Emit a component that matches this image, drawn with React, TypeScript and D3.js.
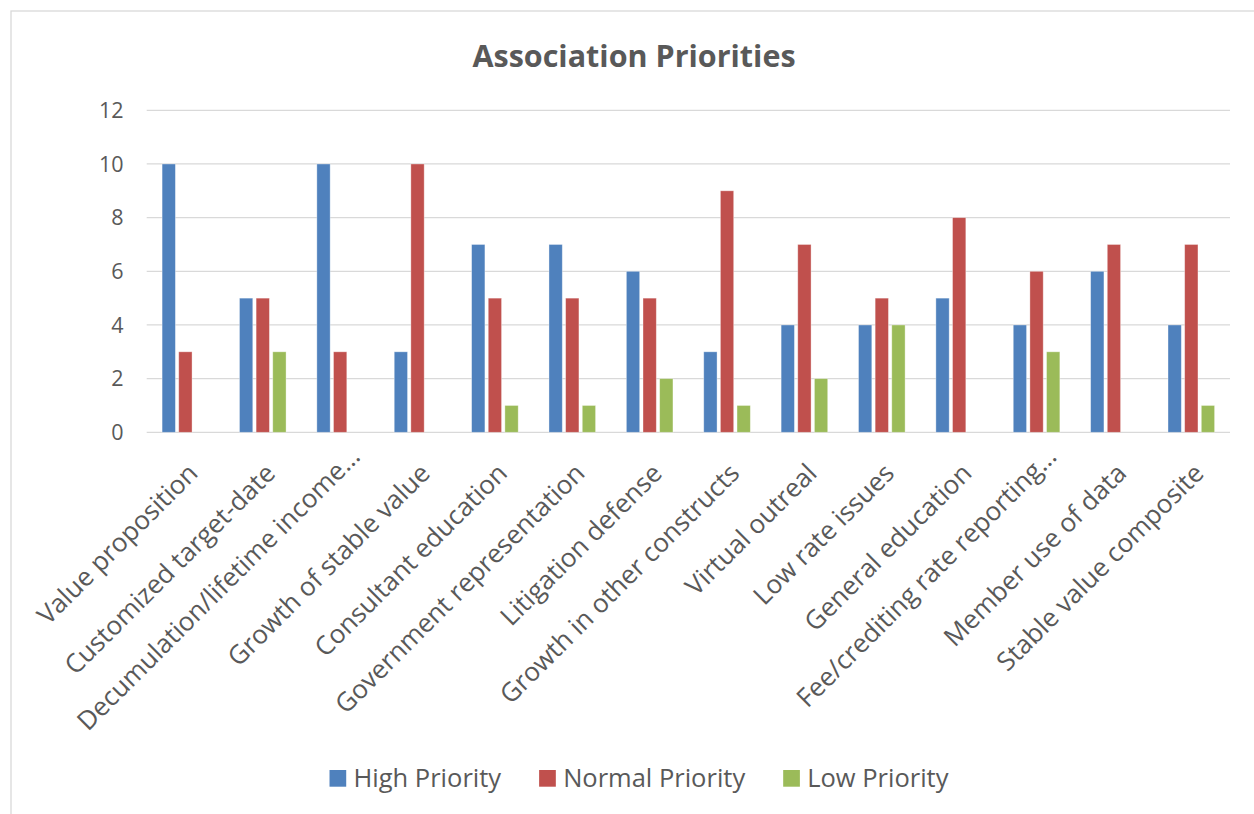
import { useEffect, useRef } from "react";
import * as d3 from "d3";

const categories = [
  "Value proposition",
  "Customized target-date",
  "Decumulation/lifetime income…",
  "Growth of stable value",
  "Consultant education",
  "Government representation",
  "Litigation defense",
  "Growth in other constructs",
  "Virtual outreal",
  "Low rate issues",
  "General education",
  "Fee/crediting rate reporting…",
  "Member use of data",
  "Stable value composite",
];

const highPriority = [10, 5, 10, 3, 7, 7, 6, 3, 4, 4, 5, 4, 6, 4];
const normalPriority = [3, 5, 3, 10, 5, 5, 5, 9, 7, 5, 8, 6, 7, 7];
const lowPriority = [0, 3, 0, 0, 1, 1, 2, 1, 2, 4, 0, 3, 0, 1];

const seriesNames = ["High Priority", "Normal Priority", "Low Priority"];
const seriesColors = ["#4F81BD", "#C0504D", "#9BBB59"];
const yTicks = [0, 2, 4, 6, 8, 10, 12];

const W = 1254;
const H = 814;
const plot = { left: 146.7, right: 1230, top: 110.3, bottom: 432.3 };
const font = "'Open Sans', sans-serif";
const textColor = "#595959";
const gridColor = "#D9D9D9";

export default function App() {
  const ref = useRef<SVGSVGElement>(null);

  useEffect(() => {
    const svg = d3.select(ref.current);
    svg.selectAll("*").remove();

    const x = d3.scaleBand().domain(categories).range([plot.left, plot.right]);
    const y = d3.scaleLinear().domain([0, 12]).range([plot.bottom, plot.top]);
    const inner = d3
      .scaleBand()
      .domain(seriesNames)
      .range([-23.3, 23.3])
      .paddingInner(0.2);

    // chart frame
    svg
      .append("rect")
      .attr("x", 11)
      .attr("y", 11)
      .attr("width", 1400)
      .attr("height", 1000)
      .attr("fill", "#fff")
      .attr("stroke", gridColor)
      .attr("stroke-width", 1.3);

    svg
      .append("text")
      .attr("x", 634)
      .attr("y", 66.5)
      .attr("text-anchor", "middle")
      .attr("font-family", font)
      .attr("font-weight", "bold")
      .attr("font-size", 30.5)
      .attr("fill", textColor)
      .text("Association Priorities");

    // gridlines
    svg
      .append("g")
      .selectAll("line")
      .data(yTicks)
      .join("line")
      .attr("x1", plot.left)
      .attr("x2", plot.right)
      .attr("y1", (d) => y(d))
      .attr("y2", (d) => y(d))
      .attr("stroke", gridColor)
      .attr("stroke-width", 1.3);

    svg
      .append("g")
      .selectAll("text")
      .data(yTicks)
      .join("text")
      .attr("x", 123.5)
      .attr("y", (d) => y(d))
      .attr("dy", "0.36em")
      .attr("text-anchor", "end")
      .attr("font-family", font)
      .attr("font-size", 21.5)
      .attr("fill", textColor)
      .text((d) => d);

    // bars
    const series = seriesNames.map((name, i) => ({
      name,
      color: seriesColors[i],
      values: [highPriority, normalPriority, lowPriority][i],
    }));

    series.forEach((s) => {
      svg
        .append("g")
        .selectAll("rect")
        .data(s.values.map((v, i) => ({ cat: categories[i], v })))
        .join("rect")
        .attr("x", (d) => x(d.cat)! + x.bandwidth() / 2 + inner(s.name)!)
        .attr("y", (d) => y(d.v))
        .attr("width", inner.bandwidth())
        .attr("height", (d) => y(0) - y(d.v))
        .attr("fill", s.color)
        .attr("stroke", "#fff")
        .attr("stroke-opacity", 0.45)
        .attr("stroke-width", 0.8);
    });

    // category labels
    svg
      .append("g")
      .selectAll("text")
      .data(categories)
      .join("text")
      .attr("transform", (d) => {
        const cut = d.endsWith("…");
        const cx = x(d)! + x.bandwidth() / 2 + (cut ? 21.5 : 14);
        const cy = plot.bottom + (cut ? 26 : 42.5);
        return `translate(${cx},${cy}) rotate(-45)`;
      })
      .attr("text-anchor", "end")
      .attr("font-family", font)
      .attr("font-size", 26)
      .attr("fill", textColor)
      .text((d) => d);

    // legend
    const legend = svg.append("g");
    const items = legend
      .selectAll("g")
      .data(series)
      .join("g");
    items
      .append("rect")
      .attr("width", 16.7)
      .attr("height", 16.7)
      .attr("y", 770)
      .attr("fill", (d) => d.color);
    items
      .append("text")
      .attr("x", 24)
      .attr("y", 787)
      .attr("font-family", font)
      .attr("font-size", 25.5)
      .attr("fill", textColor)
      .text((d) => d.name);

    const widths: number[] = [];
    items.each(function () {
      const t = d3.select(this).select("text").node() as SVGTextElement;
      widths.push(24 + t.getComputedTextLength());
    });
    const gap = 38;
    const total = d3.sum(widths) + gap * (widths.length - 1);
    let cursor = 639 - total / 2;
    items.attr("transform", (_, i) => {
      const tx = cursor;
      cursor += widths[i] + gap;
      return `translate(${tx},0)`;
    });
  }, []);

  return (
    <svg
      ref={ref}
      width={W}
      height={H}
      style={{ position: "absolute", left: 0, top: 0, background: "#fff" }}
    ></svg>
  );
}
